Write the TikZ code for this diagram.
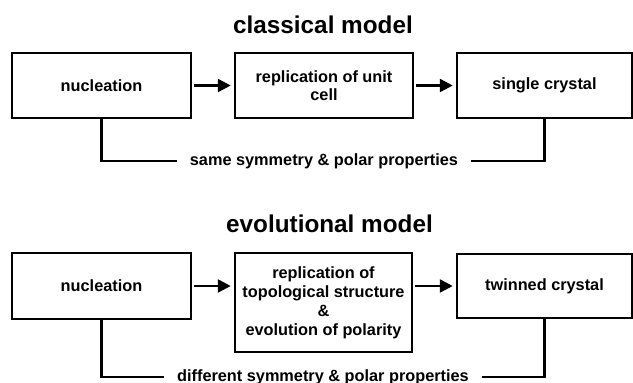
\documentclass[tikz,border=0pt]{standalone}
\usepackage{fontspec}
\setmainfont{Liberation Sans}
\usetikzlibrary{arrows.meta}
\tikzset{
  stagebox/.style={draw, line width=2.5pt, inner sep=0pt, align=center,
    font=\bfseries\fontsize{16.3}{18.5}\selectfont},
  modeltitle/.style={anchor=base, inner sep=0pt, font=\bfseries\fontsize{24.3}{28}\selectfont},
  proplabel/.style={inner xsep=13pt, inner ysep=0pt, font=\bfseries\fontsize{16.3}{18.5}\selectfont},
  flow/.style={line width=2.5pt, -{Triangle[length=13pt,width=13pt]}, shorten <=2pt, shorten >=3pt},
  bracket/.style={line width=2.5pt}
}
\begin{document}
\begin{tikzpicture}[x=1pt,y=-1pt]
\useasboundingbox (0,0) rectangle (633,383);
% classical model
\node[modeltitle] (t1) at (323,33) {classical model};
\node[stagebox, minimum width=179pt, minimum height=65pt] (a1) at (101.5,85.5) {nucleation};
\node[stagebox, minimum width=178pt, minimum height=65pt] (a2) at (324,85.5) {replication of unit\\cell};
\node[stagebox, minimum width=175pt, minimum height=65pt] (a3) at (544.5,85.5) {single crystal};
\draw[flow] (a1) -- (a2);
\draw[flow] (a2) -- (a3);
\node[proplabel] (p1) at (324,161) {same symmetry \& polar properties};
\draw[bracket] (a1.south) |- (p1.west);
\draw[bracket] (p1.east) -| (a3.south);
% evolutional model
\node[modeltitle] (t2) at (329.5,232) {evolutional model};
\node[stagebox, minimum width=179pt, minimum height=66pt] (b1) at (101.5,286) {nucleation};
\node[stagebox, minimum width=177pt, minimum height=99pt, font=\bfseries\fontsize{16.3}{19}\selectfont] (b2) at (323.5,302.5) {replication of\\topological structure\\\&\\evolution of polarity};
\node[stagebox, minimum width=175pt, minimum height=64pt] (b3) at (544.5,286) {twinned crystal};
\draw[flow] (b1.east) -- (b1.east -| b2.west);
\draw[flow] (b3.west -| b2.east) -- (b3.west);
\node[proplabel] (p2) at (323,377) {different symmetry \& polar properties};
\draw[bracket] (b1.south) |- (p2.west);
\draw[bracket] (p2.east) -| (b3.south);
\end{tikzpicture}
\end{document}
